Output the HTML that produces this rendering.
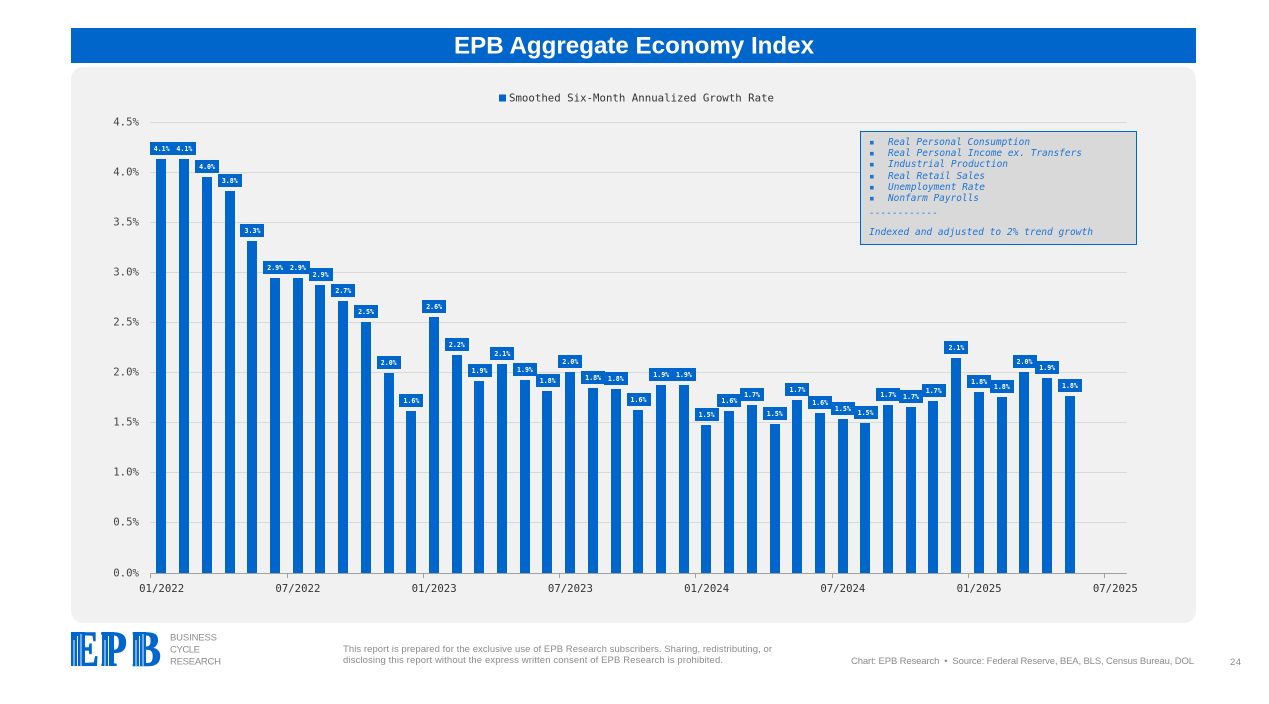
<!DOCTYPE html>
<html lang="en">
<head>
<meta charset="utf-8">
<title>EPB Aggregate Economy Index</title>
<style>
html,body{margin:0;padding:0;background:#fff;width:1269px;height:704px;overflow:hidden}
svg{display:block}
text{font-family:"Liberation Sans",sans-serif}
.mono{font-family:"DejaVu Sans Mono","Liberation Mono",monospace}
.serif{font-family:"Liberation Serif",serif}
</style>
</head>
<body>
<svg id="chart" xmlns="http://www.w3.org/2000/svg" width="1269" height="704" viewBox="0 0 1269 704">
  <rect x="71" y="28" width="1125" height="35" fill="#0066cc"/>
  <text x="454" y="53.5" font-size="24" font-weight="700" fill="#fff" textLength="360" lengthAdjust="spacingAndGlyphs">EPB Aggregate Economy Index</text>
  <rect x="71" y="67" width="1125" height="556" rx="12" ry="12" fill="#f1f1f1"/>

  <g>
    <rect x="499" y="94.5" width="7" height="7" fill="#0066cc"/>
    <text class="mono" x="509" y="101.5" font-size="10.7" fill="#333" textLength="265" lengthAdjust="spacingAndGlyphs">Smoothed Six-Month Annualized Growth Rate</text>
  </g>

  <g id="grid"></g>
  <g id="yticks"></g>
  <g id="bars"></g>
  <g id="xaxis"></g>
  <g id="labels"></g>

  <g font-size="9.4" font-style="italic" fill="#1f74d4">
    <rect x="860.5" y="131.5" width="276" height="113" fill="#d9d9d9" stroke="#0066cc" stroke-width="1"/>
    <text class="mono" x="869" y="145">▪</text>
    <text class="mono" x="888" y="145" textLength="142" lengthAdjust="spacingAndGlyphs">Real Personal Consumption</text>
    <text class="mono" x="869" y="156">▪</text>
    <text class="mono" x="888" y="156" textLength="194" lengthAdjust="spacingAndGlyphs">Real Personal Income ex. Transfers</text>
    <text class="mono" x="869" y="167">▪</text>
    <text class="mono" x="888" y="167" textLength="120" lengthAdjust="spacingAndGlyphs">Industrial Production</text>
    <text class="mono" x="869" y="179">▪</text>
    <text class="mono" x="888" y="179" textLength="97" lengthAdjust="spacingAndGlyphs">Real Retail Sales</text>
    <text class="mono" x="869" y="190">▪</text>
    <text class="mono" x="888" y="190" textLength="97" lengthAdjust="spacingAndGlyphs">Unemployment Rate</text>
    <text class="mono" x="869" y="201">▪</text>
    <text class="mono" x="888" y="201" textLength="91" lengthAdjust="spacingAndGlyphs">Nonfarm Payrolls</text>
    <text class="mono" x="869" y="216" textLength="69" lengthAdjust="spacingAndGlyphs">------------</text>
    <text class="mono" x="869" y="235" textLength="224" lengthAdjust="spacingAndGlyphs">Indexed and adjusted to 2% trend growth</text>
  </g>

  <g>
    <text class="serif" transform="translate(70.5 666) scale(.85 1)" x="0 35.4 72.7" y="0" font-size="51" font-weight="700" fill="#0066cc" stroke="#0066cc" stroke-width="0.6">EPB</text>
    <rect x="71" y="632" width="14" height="34" fill="#0066cc"/>
    <rect x="102" y="632" width="12" height="34" fill="#0066cc"/>
    <rect x="133" y="632" width="13" height="34" fill="#0066cc"/>
    <g stroke="#fff" stroke-width="0.9">
      <line x1="74" y1="640" x2="74" y2="666"/><line x1="77.5" y1="636" x2="77.5" y2="666"/><line x1="81" y1="634" x2="81" y2="666"/>
      <line x1="105" y1="640" x2="105" y2="666"/><line x1="108.5" y1="636" x2="108.5" y2="666"/>
      <line x1="136" y1="640" x2="136" y2="666"/><line x1="139.5" y1="636" x2="139.5" y2="666"/><line x1="143" y1="634" x2="143" y2="666"/>
    </g>
    <text x="170" y="640.5" font-size="9.5" fill="#8c8c8c" textLength="47">BUSINESS</text>
    <text x="170" y="652.5" font-size="9.5" fill="#8c8c8c" textLength="30">CYCLE</text>
    <text x="170" y="664.5" font-size="9.5" fill="#8c8c8c" textLength="51">RESEARCH</text>
  </g>

  <g font-size="9.5" fill="#8a8a8a">
    <text x="343" y="652" textLength="429">This report is prepared for the exclusive use of EPB Research subscribers. Sharing, redistributing, or</text>
    <text x="343" y="663" textLength="380">disclosing this report without the express written consent of EPB Research is prohibited.</text>
  </g>
  <text x="851" y="664" font-size="9.5" fill="#8a8a8a" textLength="343">Chart: EPB Research&#160;&#160;•&#160;&#160;Source: Federal Reserve, BEA, BLS, Census Bureau, DOL</text>
  <text x="1230" y="665" font-size="9.5" fill="#8a8a8a" textLength="11">24</text>
</svg>
<script>
const categories = ["01/2022","02/2022","03/2022","04/2022","05/2022","06/2022","07/2022","08/2022","09/2022","10/2022","11/2022","12/2022","01/2023","02/2023","03/2023","04/2023","05/2023","06/2023","07/2023","08/2023","09/2023","10/2023","11/2023","12/2023","01/2024","02/2024","03/2024","04/2024","05/2024","06/2024","07/2024","08/2024","09/2024","10/2024","11/2024","12/2024","01/2025","02/2025","03/2025","04/2025","05/2025","06/2025","07/2025"];
const growthValues = [4.136,4.136,3.956,3.816,3.317,2.947,2.949,2.877,2.717,2.507,2.0,1.618,2.557,2.178,1.918,2.088,1.928,1.818,2.008,1.848,1.838,1.628,1.878,1.878,1.478,1.618,1.678,1.488,1.728,1.598,1.538,1.498,1.678,1.658,1.718,2.148,1.808,1.758,2.008,1.948,1.768];
const yTicks = [0,0.5,1,1.5,2,2.5,3,3.5,4,4.5];
const xTickLabels = ["01/2022","07/2022","01/2023","07/2023","01/2024","07/2024","01/2025","07/2025"];

const NS = 'http://www.w3.org/2000/svg';
const plotLeft = 150.3, plotRight = 1126.7, plotBottom = 573, plotTop = 122.5, yMax = 4.5;
const bandWidth = (plotRight - plotLeft) / categories.length;
function xBand(i) { return plotLeft + bandWidth * i; }
function xCenter(i) { return xBand(i) + bandWidth / 2; }
function yScale(v) { return plotBottom - (v / yMax) * (plotBottom - plotTop); }
function make(tag, attrs, parent) {
  const el = document.createElementNS(NS, tag);
  for (const k in attrs) el.setAttribute(k, attrs[k]);
  parent.appendChild(el);
  return el;
}
const gridG = document.getElementById('grid');
const yG = document.getElementById('yticks');
const barsG = document.getElementById('bars');
const xG = document.getElementById('xaxis');
const labelsG = document.getElementById('labels');

yTicks.forEach(function (t) {
  const y = Math.round(yScale(t) - 0.5) + 0.5;
  if (t > 0) {
    const line = make('line', {x1: plotLeft, x2: plotRight, y1: y, y2: y, stroke: '#d9d9d9', 'stroke-width': 1}, gridG);
    
    
  }
  const txt = make('text', {x: 139, y: y + 3, 'text-anchor': 'end', 'font-size': 10.7, fill: '#444', 'class': 'mono'}, yG);
  txt.textContent = t.toFixed(1) + '%';
  
  
});

growthValues.forEach(function (v, i) {
  const top = Math.round(yScale(v));
  const left = Math.round(xCenter(i) - 5.2);
  const bar = make('rect', {x: left, y: top, width: 10, height: plotBottom - top, fill: '#0066cc'}, barsG);
  
  
});

const axisLine = make('line', {x1: plotLeft, x2: plotRight, y1: 573.5, y2: 573.5, stroke: '#a0a0a0', 'stroke-width': 1}, xG);



xTickLabels.forEach(function (lab) {
  const i = categories.indexOf(lab);
  const tx = Math.round(xBand(i)) + 0.5;
  const tick = make('line', {x1: tx, x2: tx, y1: 573.5, y2: 578, stroke: '#a0a0a0', 'stroke-width': 1}, xG);
  
  
  const txt = make('text', {x: xCenter(i), y: 592, 'text-anchor': 'middle', 'font-size': 10.7, fill: '#333', 'class': 'mono'}, xG);
  txt.textContent = lab;
  
  
});

growthValues.forEach(function (v, i) {
  const top = Math.round(yScale(v));
  const cx = xCenter(i);
  const box = make('rect', {x: Math.round(cx - 12), y: top - 17, width: 24, height: 13, fill: '#0066cc'}, labelsG);
  
  
  const txt = make('text', {x: cx, y: top - 8, 'text-anchor': 'middle', 'font-size': 6.6, 'font-weight': 700, fill: '#fff', 'class': 'mono'}, labelsG);
  txt.textContent = v.toFixed(1) + '%';
  
  
});
</script>
</body>
</html>
